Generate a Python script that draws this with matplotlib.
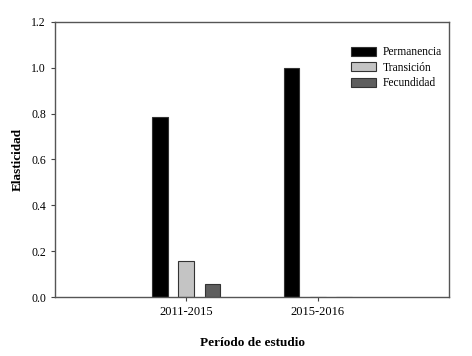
import matplotlib
matplotlib.use("Agg")
import matplotlib.pyplot as plt
import numpy as np

periods = ["2011-2015", "2015-2016"]
series = ["Permanencia", "Transición", "Fecundidad"]
permanencia = [0.785, 1.0]
transicion = [0.157, 0.0]
fecundidad = [0.057, 0.0]
colors = ["#000000", "#c4c4c4", "#5e5e5e"]

plt.rcParams["font.family"] = ["Liberation Serif", "DejaVu Serif"]

fig = plt.figure(figsize=(4.72, 3.56), dpi=100)
ax = fig.add_axes([55 / 472, 1 - 297 / 356, 394 / 472, 275 / 356])

x = np.arange(1, len(periods) + 1)
w = 0.12
off = 0.2
for i, (vals, name) in enumerate(zip([permanencia, transicion, fecundidad], series)):
    ax.bar(x + (i - 1) * off, vals, w, color=colors[i], edgecolor="#333333",
           linewidth=0.8, label=name)

ax.set_xlim(0, 3)
ax.set_ylim(0, 1.2)
ax.set_xticks(x)
ax.set_xticklabels(periods, fontsize=9)
ax.set_yticks(np.arange(0, 1.21, 0.2))
ax.set_yticklabels([f"{v:.1f}" for v in np.arange(0, 1.21, 0.2)], fontsize=8.5)
ax.tick_params(direction="out", length=3, width=0.8, color="#444444")
for s in ax.spines.values():
    s.set_color("#555555")
    s.set_linewidth(1.0)

ax.set_xlabel("Período de estudio", fontsize=9.5, fontweight="bold", labelpad=14)
ax.set_ylabel("Elasticidad", fontsize=9.5, fontweight="bold", labelpad=5)

ax.legend(loc="upper left", bbox_to_anchor=(0.751, 0.912), frameon=False, fontsize=8.3,
          handlelength=2.2, handleheight=0.8, labelspacing=0.3, handletextpad=0.6,
          borderpad=0, borderaxespad=0)

fig.savefig("out.png", dpi=100)
